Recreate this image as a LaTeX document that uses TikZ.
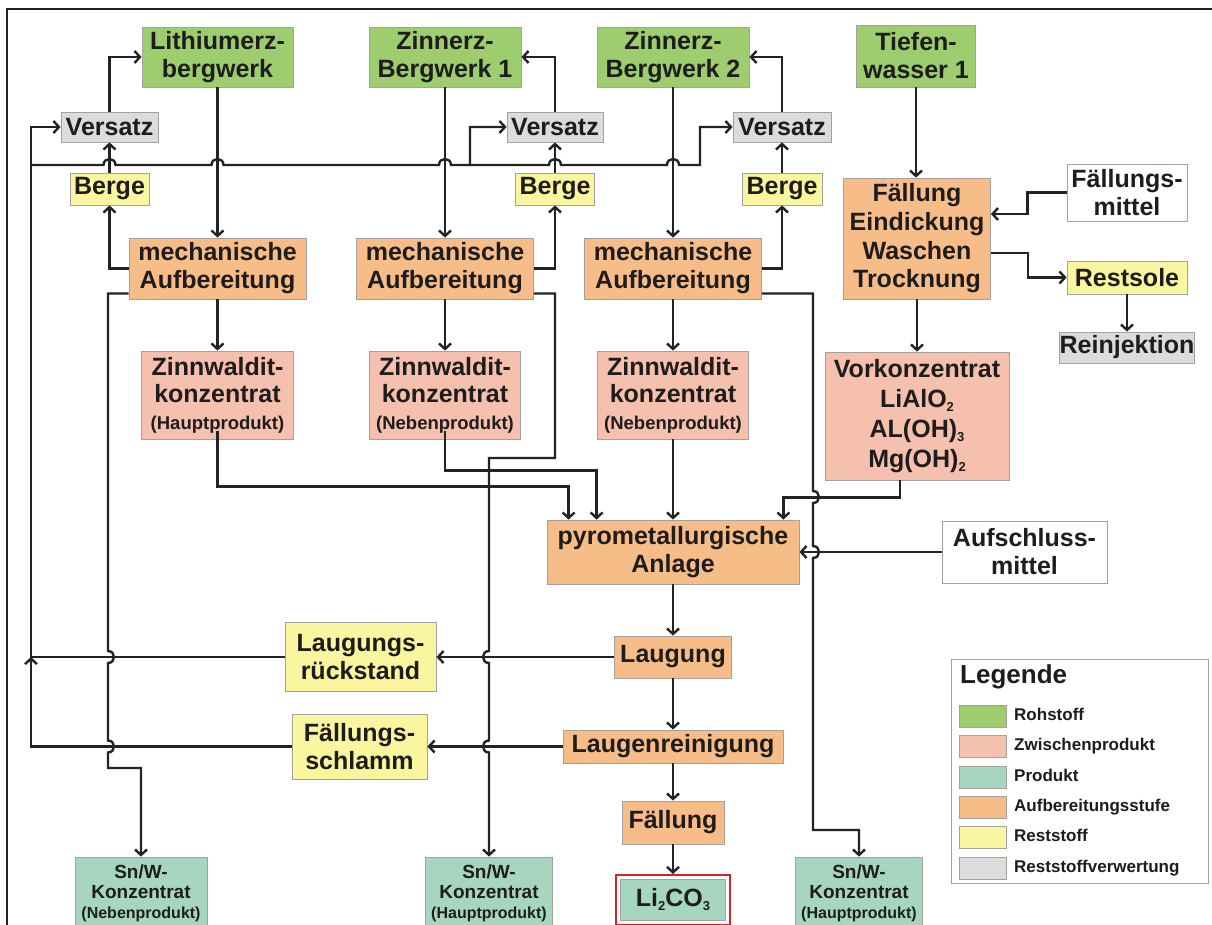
\documentclass[tikz,border=0pt]{standalone}
\usepackage{fontspec}
\setmainfont{Liberation Sans}
\usetikzlibrary{arrows.meta,calc}
\definecolor{cgreen}{RGB}{157,205,110}
\definecolor{cpink}{RGB}{245,192,173}
\definecolor{cteal}{RGB}{166,214,192}
\definecolor{corange}{RGB}{246,189,137}
\definecolor{cyellow}{RGB}{250,246,160}
\definecolor{cgray}{RGB}{220,220,220}
\definecolor{cborder}{RGB}{165,160,155}
\definecolor{cline}{RGB}{35,35,35}
\definecolor{ctext}{RGB}{30,28,28}
\definecolor{cred}{RGB}{215,35,35}
\newcommand\chs[1]{\raisebox{-4.5pt}{\fontsize{13}{13}\selectfont #1}}
\begin{document}
\begin{tikzpicture}[x=1pt,y=-1pt,
  box/.style={draw=cborder, line width=0.8pt, inner sep=0pt, align=center, text=ctext,
    font=\bfseries\fontsize{25}{28}\selectfont},
  raw/.style={box, fill=cgreen},
  mid/.style={box, fill=cpink},
  prod/.style={box, fill=cteal},
  proc/.style={box, fill=corange},
  rest/.style={box, fill=cyellow},
  reuse/.style={box, fill=cgray},
  ext/.style={box, fill=white},
  conn/.style={line width=2.4pt, draw=cline},
  arr/.style={conn, -{Straight Barb[length=5.5pt,width=12pt]}},
  swatch/.style={draw=cborder, line width=0.8pt, minimum width=47pt, minimum height=22pt, inner sep=0pt},
  legtext/.style={anchor=west, inner sep=0pt, text=ctext, text height=12pt, text depth=3.5pt,
    font=\bfseries\fontsize{17}{20}\selectfont}
]
\useasboundingbox (0,0) rectangle (1212,925);
\clip (0,0) rectangle (1212,925);
\fill[white] (0,0) rectangle (1212,925);

% frame
\draw[line width=2.5pt, cline] (7,925) -- (7,9) -- (1212,9);

% --- raw materials
\node[raw, minimum width=151pt, minimum height=60pt] (lith) at (217.5,57) {Lithiumerz-\\bergwerk};
\node[raw, minimum width=152pt, minimum height=60pt] (zb1) at (445,57) {Zinnerz-\\Bergwerk 1};
\node[raw, minimum width=152pt, minimum height=60pt] (zb2) at (673,57) {Zinnerz-\\Bergwerk 2};
\node[raw, minimum width=119pt, minimum height=62pt] (tw) at (916,56) {Tiefen-\\wasser 1};

% --- Versatz / Berge
\node[reuse, minimum width=97pt, minimum height=30pt] (v1) at (109.5,127) {Versatz};
\node[reuse, minimum width=96pt, minimum height=30pt] (v2) at (555,127) {Versatz};
\node[reuse, minimum width=98pt, minimum height=30pt] (v3) at (782,127) {Versatz};
\node[rest, minimum width=79pt, minimum height=32pt] (b1) at (109.5,189) {Berge};
\node[rest, minimum width=79pt, minimum height=32pt] (b2) at (555,189) {Berge};
\node[rest, minimum width=80pt, minimum height=32pt] (b3) at (782,189) {Berge};

% --- mechanical processing
\node[proc, minimum width=177pt, minimum height=61pt] (m1) at (217.5,268.5) {mechanische\\Aufbereitung};
\node[proc, minimum width=177pt, minimum height=61pt] (m2) at (445,268.5) {mechanische\\Aufbereitung};
\node[proc, minimum width=177pt, minimum height=61pt] (m3) at (673,268.5) {mechanische\\Aufbereitung};

% --- brine branch
\node[proc, minimum width=147pt, minimum height=121pt, font=\bfseries\fontsize{25}{28.7}\selectfont] (fall) at (917,238.5) {Fällung\\Eindickung\\Waschen\\Trocknung};
\node[ext, minimum width=120pt, minimum height=57pt] (fm) at (1127,192.5) {Fällungs-\\mittel};
\node[rest, minimum width=120pt, minimum height=33pt] (rs) at (1127,277.5) {Restsole};
\node[reuse, minimum width=131pt, minimum height=31pt] (rj) at (1127,347.5) {Reinjektion};

% --- concentrates
\node[mid, minimum width=152pt, minimum height=88pt, font=\bfseries\fontsize{25}{27}\selectfont] (z1) at (217.5,395) {Zinnwaldit-\\konzentrat\\{\fontsize{18.5}{26}\selectfont (Hauptprodukt)}};
\node[mid, minimum width=151pt, minimum height=88pt, font=\bfseries\fontsize{25}{27}\selectfont] (z2) at (445,395) {Zinnwaldit-\\konzentrat\\{\fontsize{18.5}{26}\selectfont (Nebenprodukt)}};
\node[mid, minimum width=151pt, minimum height=88pt, font=\bfseries\fontsize{25}{27}\selectfont] (z3) at (673,395) {Zinnwaldit-\\konzentrat\\{\fontsize{18.5}{26}\selectfont (Nebenprodukt)}};
\node[mid, minimum width=184pt, minimum height=128pt, font=\bfseries\fontsize{25}{30}\selectfont] (vk) at (917,416) {Vorkonzentrat\\LiAlO\chs{2}\\AL(OH)\chs{3}\\Mg(OH)\chs{2}};

% --- hydrometallurgy
\node[proc, minimum width=252pt, minimum height=64pt] (pyro) at (673,552) {pyrometallurgische\\Anlage};
\node[ext, minimum width=165pt, minimum height=62pt] (af) at (1024.5,552) {Aufschluss-\\mittel};
\node[proc, minimum width=117pt, minimum height=42pt] (laug) at (673,657) {Laugung};
\node[rest, minimum width=151pt, minimum height=69pt] (lr) at (360.5,657) {Laugungs-\\rückstand};
\node[proc, minimum width=220pt, minimum height=33pt] (lrein) at (673,746.5) {Laugenreinigung};
\node[rest, minimum width=135pt, minimum height=65pt] (fs) at (359.5,746.5) {Fällungs-\\schlamm};
\node[proc, minimum width=102pt, minimum height=43pt] (fl) at (673,822.5) {Fällung};
\node[draw=cred, line width=2pt, minimum width=114pt, minimum height=50pt, inner sep=0pt] (lired) at (673,900) {};
\node[prod, minimum width=105pt, minimum height=41pt] (li) at (673,899.5) {Li\chs{2}CO\chs{3}};

% --- Sn/W concentrates
\node[prod, minimum width=132pt, minimum height=72pt, font=\bfseries\fontsize{19}{20}\selectfont] (sn1) at (141,893) {Sn/W-\\Konzentrat\\{\fontsize{16}{20}\selectfont (Nebenprodukt)}};
\node[prod, minimum width=127pt, minimum height=72pt, font=\bfseries\fontsize{19}{20}\selectfont] (sn2) at (489,893) {Sn/W-\\Konzentrat\\{\fontsize{16}{20}\selectfont (Hauptprodukt)}};
\node[prod, minimum width=127pt, minimum height=72pt, font=\bfseries\fontsize{19}{20}\selectfont] (sn3) at (859,893) {Sn/W-\\Konzentrat\\{\fontsize{16}{20}\selectfont (Hauptprodukt)}};

% --- legend
\node[draw=cborder, line width=0.8pt, fill=white, minimum width=257pt, minimum height=224pt, inner sep=0pt] (leg) at (1079.5,771) {};
\node[anchor=west, inner sep=0pt, text=ctext, font=\bfseries\fontsize{26}{30}\selectfont] (legt) at (960,677) {Legende};
\node[swatch, fill=cgreen] (s1) at (982.5,716) {};
\node[legtext] (l1) at (1014,716) {Rohstoff};
\node[swatch, fill=cpink] (s2) at (982.5,746) {};
\node[legtext] (l2) at (1014,746) {Zwischenprodukt};
\node[swatch, fill=cteal] (s3) at (982.5,777) {};
\node[legtext] (l3) at (1014,777) {Produkt};
\node[swatch, fill=corange] (s4) at (982.5,807) {};
\node[legtext] (l4) at (1014,807) {Aufbereitungsstufe};
\node[swatch, fill=cyellow] (s5) at (982.5,837) {};
\node[legtext] (l5) at (1014,837) {Reststoff};
\node[swatch, fill=cgray] (s6) at (982.5,868) {};
\node[legtext] (l6) at (1014,868) {Reststoffverwertung};

% ================= connectors
% mines -> mechanical processing -> concentrates
\draw[arr] (lith.south) -- (m1.north);
\draw[arr] (zb1.south) -- (m2.north);
\draw[arr] (zb2.south) -- (m3.north);
\draw[arr] (m1.south) -- (z1.north);
\draw[arr] (m2.south) -- (z2.north);
\draw[arr] (m3.south) -- (z3.north);

% mechanical processing -> Berge -> Versatz -> mines
\draw[arr] (m1.west) -| (b1.south);
\draw[arr] (m2.east) -| (b2.south);
\draw[arr] (m3.east) -| (b3.south);
\draw[arr] (b1.north) -- (v1.south);
\draw[arr] (b2.north) -- (v2.south);
\draw[arr] (b3.north) -- (v3.south);
\draw[arr] (v1.north) |- (lith.west);
\draw[arr] (v2.north) |- (zb1.east);
\draw[arr] (v3.north) |- (zb2.east);

% residue return lines
\coordinate (jl) at (31,657);
\coordinate (jt) at (31,165);
\coordinate (jv2) at (470,165);
\draw[arr] (lr.west) -- (jl) |- (v1.west);
\draw[arr] (fs.west) -| (jl);
\draw[arr] (jt) -- (103.5,165) .. controls (103.5,157) and (115.5,157) .. (115.5,165)
  -- (211.5,165) .. controls (211.5,157) and (223.5,157) .. (223.5,165)
  -- (439,165) .. controls (439,157) and (451,157) .. (451,165)
  -- (jv2) |- (v2.west);
\draw[arr] (jv2) -- (549,165) .. controls (549,157) and (561,157) .. (561,165)
  -- (667,165) .. controls (667,157) and (679,157) .. (679,165)
  -- (700,165) |- (v3.west);

% mechanical processing -> Sn/W concentrates
\draw[arr] ([yshift=-25pt]m1.west) -- (108,293.5) -- (108,651)
  .. controls (116,651) and (116,663) .. (108,663) -- (108,740.5)
  .. controls (116,740.5) and (116,752.5) .. (108,752.5) -- (108,768) -| (sn1.north);
\draw[arr] ([yshift=-25pt]m2.east) -- (555,293.5) -- (555,458) -- (489,458) -- (489,651)
  .. controls (481,651) and (481,663) .. (489,663) -- (489,740.5)
  .. controls (481,740.5) and (481,752.5) .. (489,752.5) -- (sn2.north);
\draw[arr] ([yshift=-25pt]m3.east) -- (813,293.5) -- (813,491)
  .. controls (821,491) and (821,503) .. (813,503) -- (813,546)
  .. controls (821,546) and (821,558) .. (813,558) -- (813,830) -| (sn3.north);

% brine branch
\draw[arr] (tw.south) -- (tw.south |- fall.north);
\draw[arr] (fm.west) -- ++(-39,0) |- ([yshift=24.5pt]fall.east);
\draw[arr] ([yshift=-14.5pt]fall.east) -- ++(37,0) |- (rs.west);
\draw[arr] (rs.south) -- (rj.north);
\draw[arr] (fall.south) -- (vk.north);

% concentrates -> pyrometallurgy
\draw[arr] ([yshift=8pt]z1.south) -- ++(0,55) -| ([xshift=22pt]pyro.north west);
\draw[arr] ([yshift=8pt]z2.south) -- ++(0,39) -| ([xshift=50pt]pyro.north west);
\draw[arr] (z3.south) -- (pyro.north);
\draw[arr] ([xshift=-17pt]vk.south) -- ++(0,17) -| ([xshift=-16pt]pyro.north east);
\draw[arr] (af.west) -- (pyro.east);

% hydrometallurgy chain
\draw[arr] (pyro.south) -- (laug.north);
\draw[arr] (laug.west) -- (lr.east);
\draw[arr] (laug.south) -- (lrein.north);
\draw[arr] (lrein.west) -- (fs.east);
\draw[arr] (lrein.south) -- (fl.north);
\draw[arr] (fl.south) -- (lired.north);
\end{tikzpicture}
\end{document}
